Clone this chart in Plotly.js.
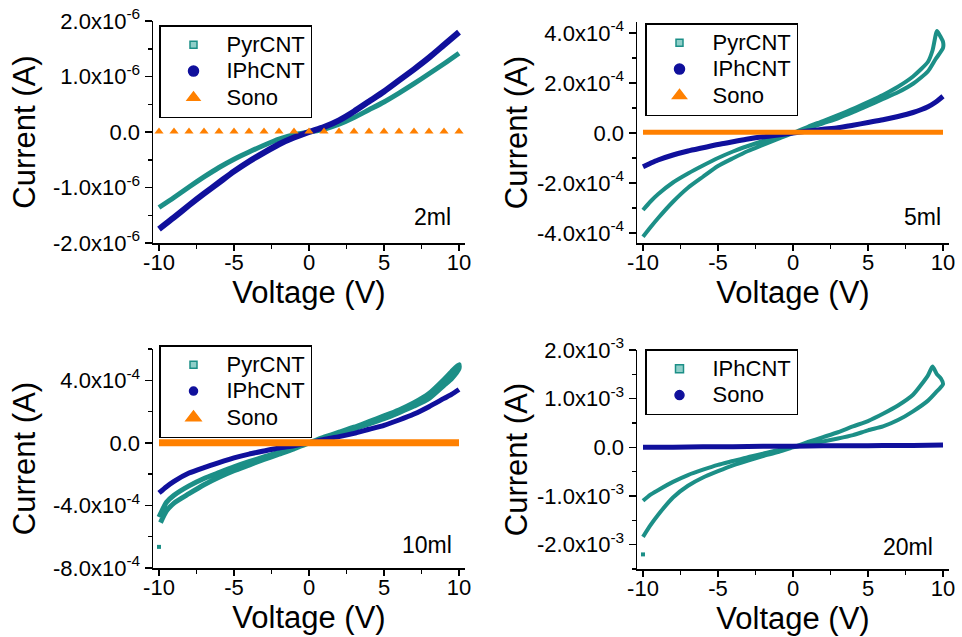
<!DOCTYPE html>
<html><head><meta charset="utf-8">
<script src="https://cdn.plot.ly/plotly-3.0.1.min.js"></script>
<style>html,body{margin:0;padding:0;background:#fff}#chart{width:962px;height:637px}</style>
</head><body><div id="chart"></div>
<script>
// ---------- data (current values in the unit noted) ----------
// 2 ml  (1e-6 A)
const V_2ml = [-10,-9,-8,-7,-6,-5,-4,-3,-2,-1,0,1,2,3,4,5,6,7,8,9,10];
const pyr_2ml = [-1.36,-1.18,-0.99,-0.81,-0.64,-0.49,-0.36,-0.24,-0.13,-0.05,0.0,0.05,0.14,0.26,0.40,0.54,0.70,0.87,1.05,1.23,1.42];
const iph_2ml = [-1.75,-1.54,-1.32,-1.11,-0.91,-0.71,-0.53,-0.37,-0.22,-0.10,0.0,0.09,0.21,0.37,0.55,0.73,0.93,1.13,1.34,1.57,1.80];
const sono_2ml = [0.01,0.01,0.01,0.01,0.01,0.01,0.01,0.01,0.01,0.01,0.01,0.01,0.01,0.01,0.01,0.01,0.01,0.01,0.01,0.01,0.01];

// 5 ml  (1e-4 A)
const V_5ml_pyr = [-10,-9.5,-9,-8,-7,-6,-5,-4,-3,-2,-1,0,1,2,3,4,5,6,7,8,9,9.3,9.6,9.8,10,
                   10,9.5,9,8,7,6,5,4,3,2,1,0,-1,-2,-3,-4,-5,-6,-7,-8,-9,-9.5,-10];
const pyr_5ml = [-3.08,-2.74,-2.45,-1.98,-1.62,-1.30,-1.00,-0.74,-0.52,-0.32,-0.14,0.0,0.25,0.48,0.72,0.97,1.24,1.52,1.85,2.26,2.85,3.30,4.08,3.89,3.65,
                 3.40,2.95,2.47,1.97,1.63,1.36,1.09,0.83,0.59,0.39,0.18,0.0,-0.24,-0.48,-0.72,-1.01,-1.32,-1.75,-2.19,-2.75,-3.41,-3.77,-4.15];
const V_5ml = [-10,-9.5,-9,-8,-7,-6,-5,-4,-3,-2,-1,0,1,2,3,4,5,6,7,8,9,9.5,10];
const iph_5ml = [-1.35,-1.21,-1.08,-0.88,-0.72,-0.59,-0.46,-0.35,-0.24,-0.15,-0.08,0.0,0.08,0.15,0.21,0.31,0.42,0.53,0.66,0.82,1.05,1.23,1.47];
const sono_5ml = [0.03,0.03,0.03,0.03,0.03,0.03,0.03,0.03,0.03,0.03,0.03,0.03,0.03,0.03,0.03,0.03,0.03,0.03,0.03,0.03,0.03,0.03,0.03];

// 10 ml  (1e-4 A)
const V_10ml_pyr = [-10,-9.5,-9,-8,-7,-6,-5,-4,-3,-2,-1,0,1,2,3,4,5,6,7,8,9,9.5,10,
                    10,9.5,9,8,7,6,5,4,3,2,1,0,-1,-2,-3,-4,-5,-6,-7,-8,-9,-9.5,-9.9];
const pyr_10ml = [-4.75,-3.80,-3.35,-2.75,-2.28,-1.90,-1.53,-1.20,-0.90,-0.60,-0.32,0.0,0.36,0.68,1.00,1.36,1.72,2.10,2.56,3.15,4.05,4.55,5.00,
                  4.75,4.10,3.68,2.84,2.35,1.93,1.54,1.21,0.90,0.60,0.30,0.0,-0.38,-0.72,-1.06,-1.42,-1.78,-2.20,-2.68,-3.25,-3.85,-4.35,-5.10];
const V_10ml_pyr_out = [-10];
const pyr_10ml_out = [-6.65];
const V_10ml = [-10,-9.5,-9,-8,-7,-6,-5,-4,-3,-2,-1,0,1,2,3,4,5,6,7,8,9,9.5,10];
const iph_10ml = [-3.20,-2.80,-2.46,-1.93,-1.58,-1.26,-0.96,-0.72,-0.52,-0.33,-0.18,0.0,0.22,0.40,0.61,0.87,1.12,1.46,1.84,2.31,2.84,3.10,3.41];
const sono_10ml = [0,0,0,0,0,0,0,0,0,0,0,0,0,0,0,0,0,0,0,0,0,0,0];

// 20 ml  (1e-3 A)
const V_20ml_iph = [-10,-9.5,-9,-8,-7,-6,-5,-4,-3,-2,-1,0,1,2,3,4,5,6,7,8,9,9.3,9.6,9.85,10,
                    9.5,9,8,7,6,5,4,3,2,1,0,-1,-2,-3,-4,-5,-6,-7,-8,-9,-9.5,-10];
const iph_20ml = [-1.10,-0.97,-0.88,-0.71,-0.57,-0.46,-0.36,-0.28,-0.20,-0.13,-0.06,0.0,0.11,0.21,0.31,0.43,0.54,0.69,0.86,1.08,1.48,1.66,1.50,1.42,1.30,
                  1.12,0.96,0.74,0.56,0.43,0.35,0.25,0.18,0.12,0.06,0.0,-0.10,-0.18,-0.27,-0.37,-0.49,-0.62,-0.79,-1.03,-1.39,-1.60,-1.84];
const V_20ml_iph_out = [-10];
const iph_20ml_out = [-2.20];
const V_20ml_sono = [-10,-8,-6,-4,-2,0,2,4,6,8,10];
const sono_20ml = [0.00,0.00,0.01,0.01,0.02,0.02,0.03,0.03,0.04,0.04,0.05];

// ---------- ticks & labels ----------
const xTickVals = [-10,-5,0,5,10];
const xTickText = ['-10','-5','0','5','10'];
const yTickVals_2ml = [-2e-6,-1e-6,0,1e-6,2e-6];
const yTickText_2ml = ['-2.0x10<sup>-6</sup>','-1.0x10<sup>-6</sup>','0.0','1.0x10<sup>-6</sup>','2.0x10<sup>-6</sup>'];
const yTickVals_5ml = [-4e-4,-2e-4,0,2e-4,4e-4];
const yTickText_5ml = ['-4.0x10<sup>-4</sup>','-2.0x10<sup>-4</sup>','0.0','2.0x10<sup>-4</sup>','4.0x10<sup>-4</sup>'];
const yTickVals_10ml = [-8e-4,-4e-4,0,4e-4];
const yTickText_10ml = ['-8.0x10<sup>-4</sup>','-4.0x10<sup>-4</sup>','0.0','4.0x10<sup>-4</sup>'];
const yTickVals_20ml = [-2e-3,-1e-3,0,1e-3,2e-3];
const yTickText_20ml = ['-2.0x10<sup>-3</sup>','-1.0x10<sup>-3</sup>','0.0','1.0x10<sup>-3</sup>','2.0x10<sup>-3</sup>'];
const panelLabels = ['2ml','5ml','10ml','20ml'];
const seriesNames = ['PyrCNT','IPhCNT','Sono'];

// ---------- styling ----------
const TEAL = '#1c8f87', TEAL_L = '#8fcfc9', NAVY = '#10109c', ORANGE = '#ff8000';
const FONT = 'Arial, "Liberation Sans", sans-serif';
const W = 962, H = 637;
const sc = (arr, s) => arr.map(v => v * s);
const big = s => '<span style="font-size:22px">' + s + '</span>';

function xax(px0, px1, anchor) {
  return {
    domain: [px0 / W, px1 / W], anchor: anchor, range: [-10.4, 10.4],
    showline: true, linecolor: 'black', linewidth: 1.5, mirror: false,
    ticks: 'outside', ticklen: 6, tickwidth: 1.5, tickcolor: 'black',
    tickmode: 'array', tickvals: xTickVals, ticktext: xTickText, ticklabelstandoff: -7,
    tickfont: {size: 22, family: FONT, color: 'black'},
    minor: {ticks: 'outside', ticklen: 4, tickwidth: 1.5, tickcolor: 'black', tick0: 0, dtick: 2.5, showgrid: false},
    showgrid: false, zeroline: false, automargin: false,
    title: {text: 'Voltage (V)', font: {size: 31, family: FONT, color: 'black'}, standoff: 1}
  };
}
function yax(py0, py1, anchor, range, vals, text, mdt, standoff) {
  return {
    domain: [1 - py1 / H, 1 - py0 / H], anchor: anchor, range: range,
    showline: true, linecolor: 'black', linewidth: 1.5, mirror: false,
    ticks: 'outside', ticklen: 7, tickwidth: 1.5, tickcolor: 'black',
    tickmode: 'array', tickvals: vals, ticktext: text,
    tickfont: {size: 22, family: FONT, color: 'black'},
    minor: {ticks: 'outside', ticklen: 4, tickwidth: 1.5, tickcolor: 'black', tick0: 0, dtick: mdt, showgrid: false},
    showgrid: false, zeroline: false, automargin: false,
    title: {text: 'Current (A)', font: {size: 31, family: FONT, color: 'black'}, standoff: standoff}
  };
}
function leg(px, py) {
  return {x: px / W, y: 1 - py / H, xanchor: 'left', yanchor: 'top', bgcolor: 'white',
    bordercolor: 'black', borderwidth: 1.5, font: {size: 18, family: FONT, color: 'black'},
    itemwidth: 56, tracegroupgap: 0, itemclick: false, itemdoubleclick: false};
}
function lineTrace(x, y, color, width, xa, ya) {
  return {x: x, y: y, mode: 'lines', line: {color: color, width: width, shape: 'spline', smoothing: 0.6},
    xaxis: xa, yaxis: ya, showlegend: false, hoverinfo: 'skip'};
}
function legItem(name, symbol, size, color, lineColor, legend) {
  return {x: [null], y: [null], mode: 'markers', name: big(name),
    marker: {symbol: symbol, size: size, color: color, line: {color: lineColor, width: 1.5}},
    legend: legend, showlegend: true, xaxis: 'x', yaxis: 'y'};
}

const traces = [
  // panel 1 (2 ml)
  lineTrace(V_2ml, sc(pyr_2ml, 1e-6), TEAL, 5, 'x', 'y'),
  lineTrace(V_2ml, sc(iph_2ml, 1e-6), NAVY, 6, 'x', 'y'),
  {x: V_2ml, y: sc(sono_2ml, 1e-6), mode: 'markers', marker: {symbol: 'triangle-up', size: 8, color: ORANGE},
   xaxis: 'x', yaxis: 'y', showlegend: false},
  // panel 2 (5 ml)
  lineTrace(V_5ml_pyr, sc(pyr_5ml, 1e-4), TEAL, 4, 'x2', 'y2'),
  lineTrace(V_5ml, sc(iph_5ml, 1e-4), NAVY, 5, 'x2', 'y2'),
  lineTrace(V_5ml, sc(sono_5ml, 1e-4), ORANGE, 5, 'x2', 'y2'),
  // panel 3 (10 ml)
  lineTrace(V_10ml_pyr, sc(pyr_10ml, 1e-4), TEAL, 5, 'x3', 'y3'),
  {x: V_10ml_pyr_out, y: sc(pyr_10ml_out, 1e-4), mode: 'markers', marker: {symbol: 'square', size: 4, color: TEAL},
   xaxis: 'x3', yaxis: 'y3', showlegend: false},
  lineTrace(V_10ml, sc(iph_10ml, 1e-4), NAVY, 5, 'x3', 'y3'),
  lineTrace(V_10ml, sc(sono_10ml, 1e-4), ORANGE, 7, 'x3', 'y3'),
  // panel 4 (20 ml)
  lineTrace(V_20ml_iph, sc(iph_20ml, 1e-3), TEAL, 4, 'x4', 'y4'),
  {x: V_20ml_iph_out, y: sc(iph_20ml_out, 1e-3), mode: 'markers', marker: {symbol: 'square', size: 4, color: TEAL},
   xaxis: 'x4', yaxis: 'y4', showlegend: false},
  lineTrace(V_20ml_sono, sc(sono_20ml, 1e-3), NAVY, 5, 'x4', 'y4'),
  // legends
  legItem(seriesNames[0], 'square', 7, TEAL_L, TEAL, 'legend'),
  legItem(seriesNames[1], 'circle', 10, NAVY, NAVY, 'legend'),
  legItem(seriesNames[2], 'triangle-up', 11, ORANGE, ORANGE, 'legend'),
  legItem(seriesNames[0], 'square', 7, TEAL_L, TEAL, 'legend2'),
  legItem(seriesNames[1], 'circle', 10, NAVY, NAVY, 'legend2'),
  legItem(seriesNames[2], 'triangle-up', 12, ORANGE, ORANGE, 'legend2'),
  legItem(seriesNames[0], 'square', 7, TEAL_L, TEAL, 'legend3'),
  legItem(seriesNames[1], 'circle', 8, NAVY, NAVY, 'legend3'),
  legItem(seriesNames[2], 'triangle-up', 13, ORANGE, ORANGE, 'legend3'),
  legItem(seriesNames[1], 'square', 8, TEAL_L, TEAL, 'legend4'),
  legItem(seriesNames[2], 'circle', 9, NAVY, NAVY, 'legend4')
];

const annFont = {size: 23, family: FONT, color: 'black'};
const layout = {
  width: W, height: H, margin: {l: 0, r: 0, t: 0, b: 0},
  paper_bgcolor: 'white', plot_bgcolor: 'white',
  font: {family: FONT, color: 'black'}, showlegend: true,
  xaxis: xax(153, 465, 'y'), yaxis: yax(21, 243, 'x', [-2e-6, 2e-6], yTickVals_2ml, yTickText_2ml, 0.5e-6, 8),
  xaxis2: xax(637, 949, 'y2'), yaxis2: yax(22, 243, 'x2', [-4.4e-4, 4.44e-4], yTickVals_5ml, yTickText_5ml, 1e-4, 0),
  xaxis3: xax(153, 465, 'y3'), yaxis3: yax(349, 568, 'x3', [-8e-4, 6e-4], yTickVals_10ml, yTickText_10ml, 2e-4, 8),
  xaxis4: xax(637, 949, 'y4'), yaxis4: yax(350, 569, 'x4', [-2.5e-3, 2e-3], yTickVals_20ml, yTickText_20ml, 0.5e-3, 0),
  legend: leg(159, 25), legend2: leg(645, 23), legend3: leg(159, 345), legend4: leg(645, 349),
  annotations: [
    {text: panelLabels[0], xref: 'paper', yref: 'paper', x: 432 / W, y: 1 - 217 / H, showarrow: false, font: annFont, xanchor: 'center', yanchor: 'middle'},
    {text: panelLabels[1], xref: 'paper', yref: 'paper', x: 922 / W, y: 1 - 217 / H, showarrow: false, font: annFont, xanchor: 'center', yanchor: 'middle'},
    {text: panelLabels[2], xref: 'paper', yref: 'paper', x: 427 / W, y: 1 - 545 / H, showarrow: false, font: annFont, xanchor: 'center', yanchor: 'middle'},
    {text: panelLabels[3], xref: 'paper', yref: 'paper', x: 908 / W, y: 1 - 547 / H, showarrow: false, font: annFont, xanchor: 'center', yanchor: 'middle'}
  ]
};

Plotly.newPlot('chart', traces, layout, {displayModeBar: false, staticPlot: true});
</script>
</body></html>
